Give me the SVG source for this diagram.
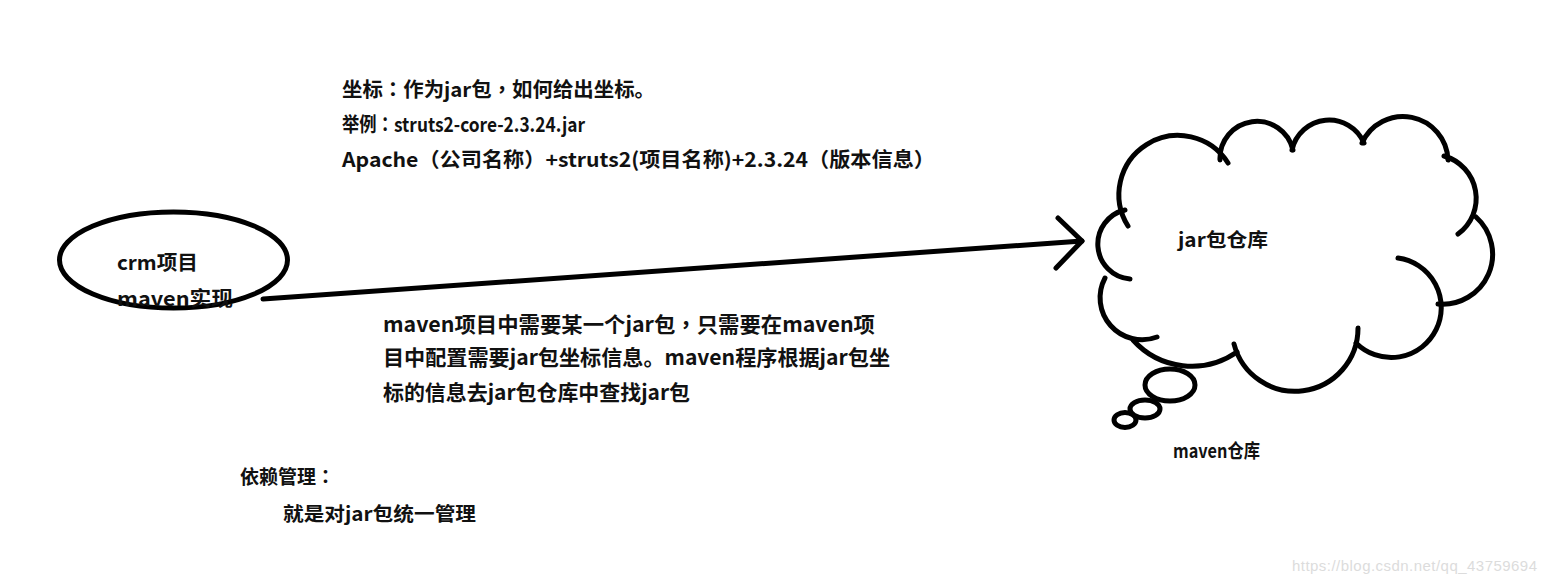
<svg xmlns="http://www.w3.org/2000/svg" width="1545" height="583" viewBox="0 0 1545 583">
<style>
.t{font-family:"Noto Sans CJK SC","Noto Sans CJK JP",sans-serif;font-weight:bold;fill:#111}
.p{font-family:"Noto Sans CJK TC","Noto Sans CJK SC",sans-serif}
.s{fill:none;stroke:#000;stroke-width:5;stroke-linecap:round;stroke-linejoin:round}
.b{fill:#fff;stroke:#000;stroke-width:5}
.wm{font-family:"Liberation Sans",Arial,sans-serif;font-size:15px;fill:#dcdcdc}
</style>
<rect width="1545" height="583" fill="#fff"/>
<g id="notes">
<text class="t" font-size="20" x="342" y="97" textLength="313" lengthAdjust="spacingAndGlyphs">坐标<tspan class="p">：</tspan>作为jar包<tspan class="p">，</tspan>如何给出坐标。</text>
<text class="t" font-size="20" x="342" y="132" textLength="243" lengthAdjust="spacingAndGlyphs">举例<tspan class="p">：</tspan>struts2-core-2.3.24.jar</text>
<text class="t" font-size="20" x="342" y="167" textLength="593" lengthAdjust="spacingAndGlyphs">Apache（公司名称）+struts2(项目名称)+2.3.24（版本信息）</text>
<text class="t" font-size="21" x="383" y="332" textLength="492" lengthAdjust="spacingAndGlyphs">maven项目中需要某一个jar包<tspan class="p">，</tspan>只需要在maven项</text>
<text class="t" font-size="21" x="383" y="365" textLength="507" lengthAdjust="spacingAndGlyphs">目中配置需要jar包坐标信息。maven程序根据jar包坐</text>
<text class="t" font-size="21" x="383" y="400" textLength="307" lengthAdjust="spacingAndGlyphs">标的信息去jar包仓库中查找jar包</text>
<text class="t" font-size="19" x="240" y="484">依赖管理<tspan class="p">：</tspan></text>
<text class="t" font-size="19" x="283" y="521" textLength="193" lengthAdjust="spacingAndGlyphs">就是对jar包统一管理</text>
</g>
<g id="connectors">
<path class="s" d="M263,299 L1082,241" stroke-width="6"/>
<path class="s" d="M1058,218 L1082,241 L1056,268"/>
</g>
<g id="crm">
<ellipse class="s" cx="173.5" cy="260" rx="114" ry="48"/>
<text class="t" font-size="20" x="117" y="270" textLength="81" lengthAdjust="spacingAndGlyphs">crm项目</text>
<text class="t" font-size="20" x="117" y="306" textLength="116" lengthAdjust="spacingAndGlyphs">maven实现</text>
</g>
<g id="repo">
<path class="s" d="M1130,279 A35 35 0 0 1 1125,210"/>
<path class="s" d="M1128,226 A57 57 0 0 1 1228,163"/>
<path class="s" d="M1220,160 A37 37 0 0 1 1293,150"/>
<path class="s" d="M1292,150 A38 38 0 0 1 1364,143"/>
<path class="s" d="M1362,143 A45 45 0 0 1 1448,160"/>
<path class="s" d="M1444,156 A44 44 0 0 1 1458,234"/>
<path class="s" d="M1476,217 A50 50 0 0 1 1438,304"/>
<path class="s" d="M1398,258 A50 50 0 1 1 1356,343"/>
<path class="s" d="M1358,328 A63 63 0 0 1 1234,344"/>
<path class="s" d="M1237,352 A79 79 0 0 1 1133,340"/>
<path class="s" d="M1157,337 A42 42 0 0 1 1105,278"/>
<ellipse class="b" cx="1125" cy="420" rx="11" ry="7.5"/>
<ellipse class="b" cx="1145" cy="409" rx="15" ry="9"/>
<ellipse class="b" cx="1170" cy="385" rx="25" ry="16"/>
<text class="t" font-size="19" x="1178" y="247" textLength="90" lengthAdjust="spacingAndGlyphs">jar包仓库</text>
<text class="t" font-size="19" x="1173" y="458" textLength="87" lengthAdjust="spacingAndGlyphs">maven仓库</text>
</g>
<text class="wm" x="1292" y="571" textLength="245">https://blog.csdn.net/qq_43759694</text>
</svg>
